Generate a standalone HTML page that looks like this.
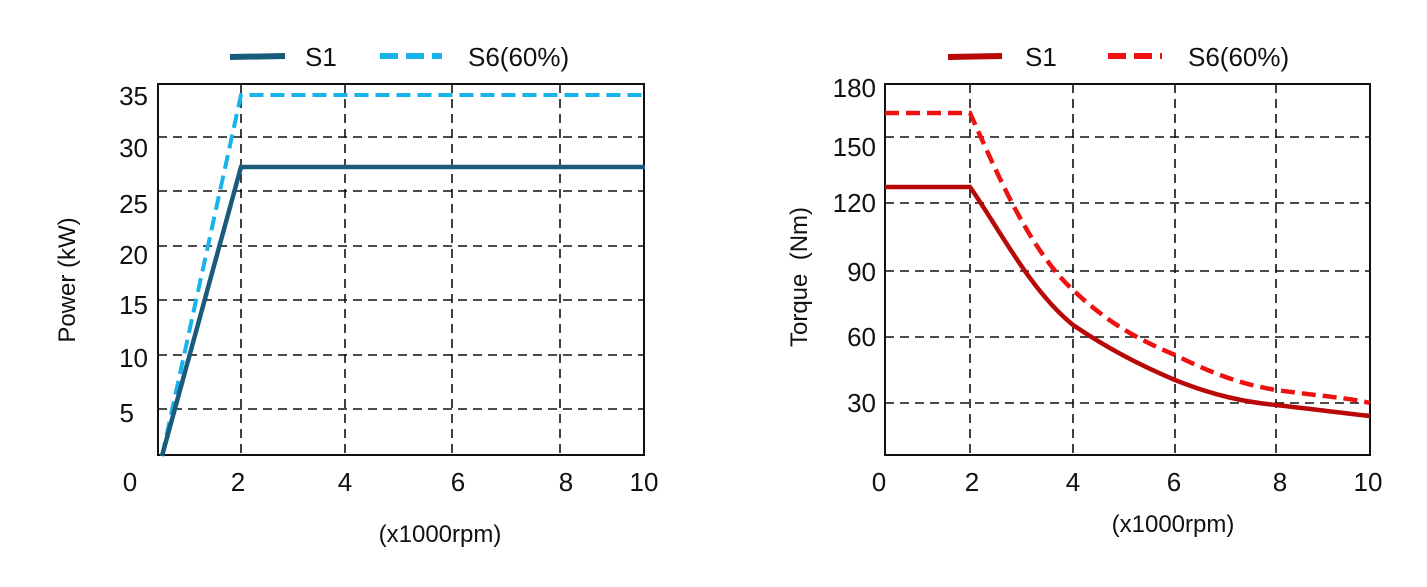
<!DOCTYPE html>
<html><head><meta charset="utf-8"><style>
body{margin:0;background:#fff}
text{font-family:"Liberation Sans",sans-serif;fill:#111}
</style></head><body>
<svg width="1427" height="582" viewBox="0 0 1427 582" xmlns="http://www.w3.org/2000/svg">
<g stroke="#111" stroke-width="1.6" stroke-dasharray="9,6" fill="none">
<path d="M241 84V455M345 84V455M452 84V455M560 84V455"/>
<path d="M158 137H644M158 191H644M158 246H644M158 300H644M158 355H644M158 409H644"/>
<path d="M970 84V455M1073 84V455M1175 84V455M1276 84V455"/>
<path d="M885 137H1370M885 203H1370M885 271H1370M885 337H1370M885 403H1370"/>
</g>
<rect x="158" y="84" width="486" height="371" fill="none" stroke="#111" stroke-width="2"/>
<rect x="885" y="84" width="485" height="371" fill="none" stroke="#111" stroke-width="2"/>
<path d="M162 456L241 95H645" stroke="#16b4ea" stroke-width="4" stroke-dasharray="14,7" fill="none"/>
<path d="M162 456L241 167H645" stroke="#1a5a7a" stroke-width="4.5" fill="none"/>
<path d="M885 113H970C1000 180 1030 250 1073 290C1110 325 1140 340 1175 355C1215 375 1245 385 1276 390C1320 396 1350 398 1370 403" stroke="#ee1111" stroke-width="4.5" stroke-dasharray="14,7" fill="none"/>
<path d="M885 187H970C1000 230 1030 290 1073 325C1110 350 1140 365 1175 380C1215 396 1245 402 1276 405C1320 410 1350 414 1370 416" stroke="#b80808" stroke-width="4.5" fill="none"/>
<g font-size="26">
<line x1="230" y1="57" x2="285" y2="56" stroke="#1a5a7a" stroke-width="6"/>
<text x="305" y="66">S1</text>
<line x1="380" y1="56" x2="442" y2="56" stroke="#16b4ea" stroke-width="6" stroke-dasharray="18,8"/>
<text x="468" y="66">S6(60%)</text>
<line x1="948" y1="57" x2="1002" y2="56" stroke="#b80808" stroke-width="6"/>
<text x="1025" y="66">S1</text>
<line x1="1108" y1="56" x2="1162" y2="56" stroke="#ee1111" stroke-width="6" stroke-dasharray="18,8"/>
<text x="1188" y="66">S6(60%)</text>
<g text-anchor="end">
<text x="148" y="105">35</text><text x="148" y="157">30</text><text x="148" y="213">25</text><text x="148" y="264">20</text><text x="148" y="314">15</text><text x="148" y="367">10</text><text x="134" y="422">5</text>
<text x="876" y="97">180</text><text x="876" y="156">150</text><text x="876" y="212">120</text><text x="876" y="281">90</text><text x="876" y="346">60</text><text x="876" y="412">30</text>
</g>
<g text-anchor="middle">
<text x="130" y="491">0</text><text x="238" y="491">2</text><text x="345" y="491">4</text><text x="458" y="491">6</text><text x="566" y="491">8</text><text x="644" y="491">10</text>
<text x="879" y="491">0</text><text x="972" y="491">2</text><text x="1073" y="491">4</text><text x="1174" y="491">6</text><text x="1280" y="491">8</text><text x="1368" y="491">10</text>
</g>
<text x="440" y="542" text-anchor="middle" font-size="24">(x1000rpm)</text>
<text x="1173" y="532" text-anchor="middle" font-size="24">(x1000rpm)</text>
<text transform="translate(75,280) rotate(-90)" text-anchor="middle" font-size="24">Power (kW)</text>
<text transform="translate(807,277) rotate(-90)" text-anchor="middle" font-size="24" xml:space="preserve">Torque  (Nm)</text>
</g>
</svg>
</body></html>
